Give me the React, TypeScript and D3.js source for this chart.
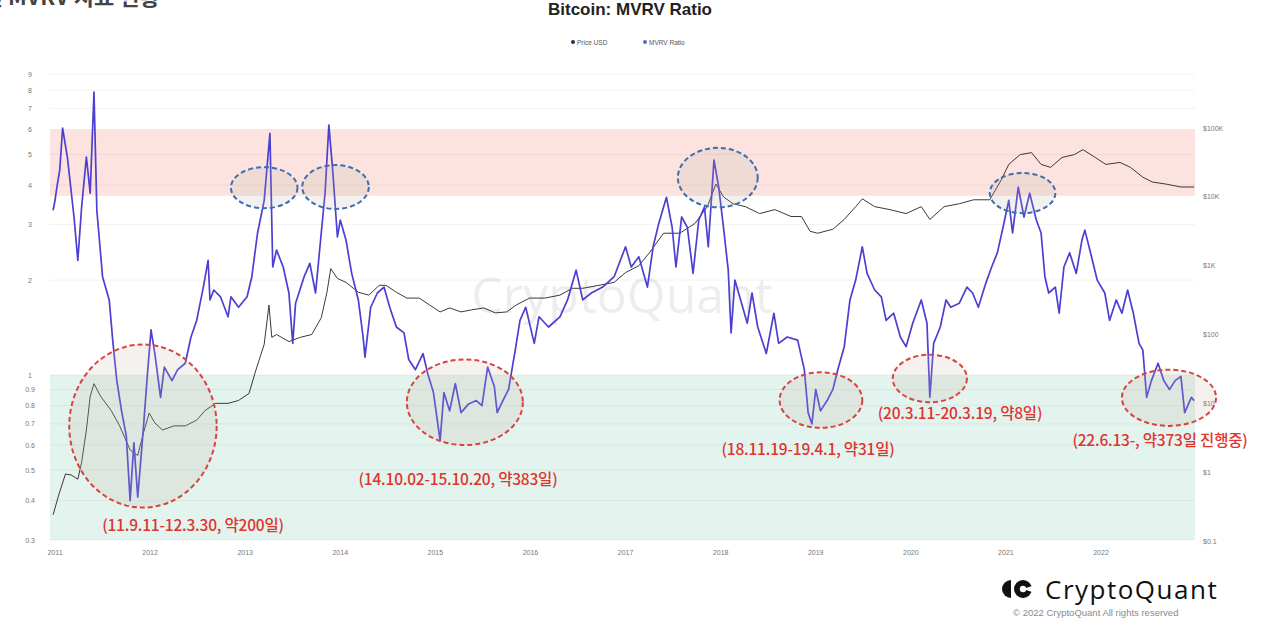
import React from "react";
import * as d3 from "d3";

// ---- data (decimal year, value) ----
const mvrvYears = [2010.98,2011.00,2011.02,2011.05,2011.08,2011.13,2011.20,2011.24,2011.28,2011.33,2011.37,2011.41,2011.44,2011.50,2011.57,2011.61,2011.65,2011.70,2011.75,2011.79,2011.83,2011.87,2011.93,2011.97,2012.01,2012.05,2012.11,2012.15,2012.23,2012.29,2012.37,2012.43,2012.49,2012.56,2012.61,2012.63,2012.67,2012.74,2012.82,2012.85,2012.93,2013.02,2013.07,2013.13,2013.20,2013.26,2013.29,2013.33,2013.40,2013.46,2013.50,2013.53,2013.62,2013.68,2013.74,2013.80,2013.84,2013.88,2013.92,2013.97,2014.00,2014.06,2014.12,2014.19,2014.24,2014.26,2014.32,2014.39,2014.46,2014.52,2014.59,2014.67,2014.72,2014.79,2014.87,2014.92,2014.98,2015.05,2015.09,2015.15,2015.21,2015.27,2015.35,2015.43,2015.49,2015.55,2015.62,2015.65,2015.71,2015.77,2015.84,2015.89,2015.95,2016.04,2016.09,2016.19,2016.31,2016.39,2016.48,2016.55,2016.64,2016.76,2016.88,2017.00,2017.06,2017.14,2017.23,2017.29,2017.35,2017.43,2017.49,2017.53,2017.59,2017.65,2017.71,2017.77,2017.83,2017.87,2017.93,2017.98,2018.03,2018.08,2018.11,2018.15,2018.21,2018.28,2018.33,2018.39,2018.48,2018.56,2018.61,2018.70,2018.81,2018.88,2018.92,2018.96,2019.00,2019.05,2019.12,2019.18,2019.24,2019.30,2019.36,2019.42,2019.49,2019.54,2019.62,2019.69,2019.74,2019.82,2019.89,2019.95,2020.02,2020.11,2020.17,2020.20,2020.24,2020.31,2020.37,2020.42,2020.51,2020.59,2020.65,2020.71,2020.79,2020.85,2020.91,2020.97,2021.03,2021.07,2021.13,2021.19,2021.25,2021.32,2021.37,2021.41,2021.45,2021.52,2021.56,2021.61,2021.67,2021.74,2021.80,2021.83,2021.89,2021.96,2022.04,2022.09,2022.16,2022.22,2022.28,2022.34,2022.40,2022.44,2022.48,2022.53,2022.60,2022.66,2022.72,2022.78,2022.84,2022.88,2022.95,2022.98];
const mvrvValues = [3.33,3.58,3.94,4.47,6.06,4.91,3.17,2.31,3.41,4.91,3.77,7.88,3.33,2.05,1.73,1.26,0.96,0.77,0.64,0.40,0.61,0.41,0.68,0.99,1.39,1.17,0.85,1.06,0.96,1.04,1.09,1.32,1.49,1.90,2.31,1.73,1.86,1.77,1.53,1.77,1.64,1.77,2.05,2.82,3.58,5.84,2.20,2.49,2.20,1.82,1.26,1.69,2.05,2.26,1.82,2.82,3.77,6.20,4.47,2.74,3.10,2.68,2.10,1.73,1.32,1.14,1.64,1.82,1.90,1.64,1.42,1.36,1.12,1.04,1.17,1.01,0.88,0.62,0.88,0.77,0.94,0.76,0.81,0.83,0.80,1.06,0.92,0.76,0.83,0.90,1.20,1.49,1.64,1.26,1.53,1.42,1.53,1.73,2.15,1.73,1.82,1.90,2.05,2.55,2.20,2.37,1.90,2.55,3.03,3.66,2.94,2.20,3.17,2.94,2.10,3.10,3.41,2.55,4.80,3.94,2.94,2.15,1.36,2.00,1.73,1.46,1.82,1.42,1.17,1.57,1.26,1.32,1.29,1.04,0.76,0.70,0.90,0.77,0.83,0.90,1.06,1.23,1.73,2.00,2.55,2.10,1.86,1.77,1.49,1.57,1.32,1.23,1.46,1.73,1.46,0.85,1.26,1.42,1.73,1.64,1.69,1.90,1.82,1.64,1.96,2.20,2.44,2.94,3.58,2.82,3.94,3.17,3.77,3.10,2.82,2.05,1.82,1.90,1.57,2.20,2.44,2.10,2.68,2.88,2.44,2.00,1.82,1.49,1.73,1.57,1.86,1.57,1.26,1.20,0.85,0.96,1.09,0.96,0.90,0.96,0.99,0.76,0.85,0.83];

const priceYears = [2010.98,2011.04,2011.11,2011.17,2011.24,2011.28,2011.33,2011.37,2011.41,2011.48,2011.59,2011.68,2011.79,2011.87,2011.93,2011.99,2012.05,2012.13,2012.25,2012.37,2012.49,2012.58,2012.69,2012.82,2012.93,2013.04,2013.11,2013.20,2013.25,2013.28,2013.33,2013.46,2013.58,2013.70,2013.80,2013.86,2013.90,2013.97,2014.06,2014.19,2014.30,2014.41,2014.48,2014.59,2014.70,2014.83,2014.94,2015.05,2015.15,2015.27,2015.38,2015.51,2015.63,2015.75,2015.85,2015.99,2016.15,2016.31,2016.44,2016.55,2016.72,2016.88,2017.00,2017.14,2017.25,2017.40,2017.57,2017.73,2017.86,2017.95,2018.03,2018.13,2018.26,2018.41,2018.57,2018.74,2018.85,2018.94,2019.02,2019.18,2019.30,2019.42,2019.49,2019.62,2019.78,2019.95,2020.11,2020.20,2020.35,2020.51,2020.66,2020.83,2020.95,2021.03,2021.15,2021.27,2021.37,2021.47,2021.59,2021.72,2021.81,2021.94,2022.05,2022.20,2022.31,2022.44,2022.54,2022.68,2022.84,2022.98];
const priceValues = [0.24,0.47,0.94,0.91,0.79,1.39,4.1,12.6,19.3,12.6,7.9,4.7,2.1,1.75,3.7,7.2,5.2,4.1,4.7,4.7,5.7,7.9,10,10,11,13.9,29.6,72,268,91,100,79,91,100,175,411,906,652,572,411,373,518,518,411,338,338,268,213,243,213,228,243,206,213,268,338,338,373,469,469,518,572,794,1000,1535,2960,2960,4110,7200,15350,10000,7940,7200,5710,6520,5180,5180,3160,2960,3380,4690,7200,9360,7200,6520,5710,7200,4690,7200,7940,9060,9060,17500,29600,41100,43900,29600,26800,37300,41100,48500,37300,29600,31600,26800,19300,16400,15350,13900,13900];

const leftTicks = [0.3,0.4,0.5,0.6,0.7,0.8,0.9,1,2,3,4,5,6,7,8,9];
const leftTickLabels = ["0.3","0.4","0.5","0.6","0.7","0.8","0.9","1","2","3","4","5","6","7","8","9"];
const rightTicks = [0.1,1,10,100,1000,10000,100000];
const rightTickLabels = ["$0.1","$1","$10","$100","$1K","$10K","$100K"];
const yearTicks = [2011,2012,2013,2014,2015,2016,2017,2018,2019,2020,2021,2022];

const zoneHigh = [3.7, 6];
const zoneLow = [0.3, 1];

// annotation periods: start/end year, MVRV range
const lowEllipses = [
  { label: "(11.9.11-12.3.30, 약200일)", x0: 2011.15, x1: 2012.70, v0: 0.38, v1: 1.25 },
  { label: "(14.10.02-15.10.20, 약383일)", x0: 2014.70, x1: 2015.92, v0: 0.60, v1: 1.12 },
  { label: "(18.11.19-19.4.1, 약31일)", x0: 2018.62, x1: 2019.49, v0: 0.68, v1: 1.02 },
  { label: "(20.3.11-20.3.19, 약8일)", x0: 2019.81, x1: 2020.59, v0: 0.82, v1: 1.16 },
  { label: "(22.6.13-, 약373일 진행중)", x0: 2022.22, x1: 2023.21, v0: 0.69, v1: 1.04 },
];
const highEllipses = [
  { x0: 2012.85, x1: 2013.55, v0: 3.38, v1: 4.56 },
  { x0: 2013.60, x1: 2014.30, v0: 3.36, v1: 4.63 },
  { x0: 2017.55, x1: 2018.39, v0: 3.40, v1: 5.25 },
  { x0: 2020.83, x1: 2021.52, v0: 3.26, v1: 4.37 },
];

const W = 1280, H = 639;
const PLOT_L = 50, PLOT_R = 1195;

export default function App() {
  const x = d3.scaleLinear().domain([2011, 2022]).range([55, 1101]);
  const yL = d3.scaleLog().domain([0.3, 9]).range([540, 74]);
  const yR = d3.scaleLog().domain([0.1, 100000]).range([541, 128]);

  const mvrvLine = d3.line<number>()
    .x((_, i) => x(mvrvYears[i]))
    .y((v) => yL(v))(mvrvValues) || "";
  const priceLine = d3.line<number>()
    .x((_, i) => x(priceYears[i]))
    .y((v) => yR(v))(priceValues) || "";

  const labelPos = [
    { x: 193, y: 531 },
    { x: 458, y: 485 },
    { x: 808, y: 455 },
    { x: 960, y: 419 },
    { x: 1160, y: 446 },
  ];

  const axisFont = "'Liberation Sans', Arial, sans-serif";
  const krFont = "'Noto Sans CJK KR', 'Noto Sans', sans-serif";

  return (
    <svg width={W} height={H} style={{ position: "fixed", left: 0, top: 0, background: "#fff", fontFamily: axisFont }}>
      <rect x={0} y={0} width={W} height={H} fill="#fff" />
      {/* clipped top-left heading */}
      <text x={-78} y={5} fontSize={22} fontWeight={700} fill="#444" style={{ fontFamily: krFont }}>비트코인 MVRV 지표 현황</text>
      {/* title */}
      <text x={630} y={15} textAnchor="middle" fontSize={17} fontWeight={700} fill="#222">Bitcoin: MVRV Ratio</text>
      {/* legend */}
      <g fontSize={6.5} fill="#555">
        <circle cx={573} cy={42} r={2} fill="#2a3050" />
        <text x={577} y={44.5}>Price USD</text>
        <circle cx={645} cy={42} r={2} fill="#6a60c8" />
        <text x={649} y={44.5}>MVRV Ratio</text>
      </g>
      {/* zones */}
      <rect x={PLOT_L} width={PLOT_R - PLOT_L} y={yL(zoneHigh[1])} height={yL(zoneHigh[0]) - yL(zoneHigh[1])} fill="#fce3df" />
      <rect x={PLOT_L} width={PLOT_R - PLOT_L} y={yL(zoneLow[1])} height={yL(zoneLow[0]) - yL(zoneLow[1])} fill="#e3f3ed" />
      {/* grid */}
      {leftTicks.map((t) => (
        <line key={"g" + t} x1={PLOT_L} x2={PLOT_R} y1={yL(t)} y2={yL(t)} stroke="#000" strokeOpacity={0.05} />
      ))}
      {/* watermark */}
      <text x={622} y={313} textAnchor="middle" fontSize={50} fill="#000" fillOpacity={0.07} style={{ fontFamily: "'Open Sans', sans-serif" }}>CryptoQuant</text>
      {/* left axis labels */}
      <g fontSize={7} fill="#777" textAnchor="middle">
        {leftTicks.map((t, i) => (
          <text key={"l" + t} x={30} y={yL(t) + 2.5}>{leftTickLabels[i]}</text>
        ))}
      </g>
      {/* right axis labels */}
      <g fontSize={7} fill="#777">
        {rightTicks.map((t, i) => (
          <text key={"r" + t} x={1203} y={yR(t) + 2.5}>{rightTickLabels[i]}</text>
        ))}
      </g>
      {/* x axis labels */}
      <g fontSize={7} fill="#777" textAnchor="middle">
        {yearTicks.map((t) => (
          <text key={"x" + t} x={x(t)} y={555}>{t}</text>
        ))}
      </g>
      {/* lines */}
      <path d={priceLine} fill="none" stroke="#3a3a3a" strokeWidth={1} strokeLinejoin="round" />
      <path d={mvrvLine} fill="none" stroke="#4c3fd2" strokeWidth={1.7} strokeLinejoin="round" />
      {/* annotation ellipses */}
      {highEllipses.map((e, i) => {
        const cx = (x(e.x0) + x(e.x1)) / 2, cy = (yL(e.v0) + yL(e.v1)) / 2;
        const rx = (x(e.x1) - x(e.x0)) / 2, ry = (yL(e.v0) - yL(e.v1)) / 2;
        return <ellipse key={"h" + i} cx={cx} cy={cy} rx={rx} ry={ry} fill="#b8b0a8" fillOpacity={0.18} stroke="#3d6fae" strokeWidth={2} strokeDasharray="5,3" />;
      })}
      {lowEllipses.map((e, i) => {
        const cx = (x(e.x0) + x(e.x1)) / 2, cy = (yL(e.v0) + yL(e.v1)) / 2;
        const rx = (x(e.x1) - x(e.x0)) / 2, ry = (yL(e.v0) - yL(e.v1)) / 2;
        return <ellipse key={"lo" + i} cx={cx} cy={cy} rx={rx} ry={ry} fill="#c8b8b0" fillOpacity={0.2} stroke="#d8443e" strokeWidth={2} strokeDasharray="5,3" />;
      })}
      {lowEllipses.map((e, i) => (
        <text key={"t" + i} x={labelPos[i].x} y={labelPos[i].y} textAnchor="middle" fontSize={15.5} fontWeight={500} fill="#e0342e" letterSpacing={-0.2} style={{ fontFamily: krFont }}>{e.label}</text>
      ))}
      {/* logo */}
      <g fill="#111">
        <path d="M1011,580 A9,9 0 0,0 1011,598 Z" />
        <circle cx={1023} cy={589} r={9} />
        <path d="M1023,589 L1032,586 L1032,592 Z" fill="#fff" />
        <circle cx={1023} cy={589} r={3.2} fill="#fff" />
      </g>
      <text x={1045} y={599} fontSize={26} fontWeight={500} fill="#111" letterSpacing={1.5} style={{ fontFamily: "'Open Sans', sans-serif" }}>CryptoQuant</text>
      <text x={1013} y={616} fontSize={9.5} fill="#8a8a8a">© 2022  CryptoQuant All rights reserved</text>
    </svg>
  );
}
